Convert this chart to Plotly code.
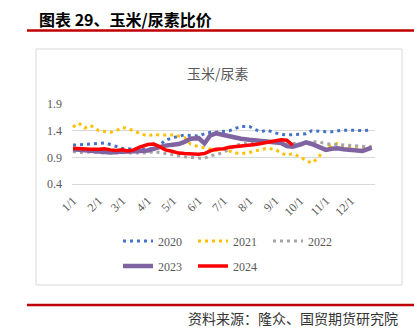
import plotly.graph_objects as go

W, H = 414, 329
PL, PR, PT, PB = 72, 375, 104, 184  # plot-area box in page pixels

DATES = ["2001-01-01", "2001-01-08", "2001-01-15", "2001-01-22",
         "2001-02-01", "2001-02-08", "2001-02-15", "2001-02-22",
         "2001-03-01", "2001-03-08", "2001-03-15", "2001-03-22",
         "2001-04-01", "2001-04-08", "2001-04-15", "2001-04-22",
         "2001-05-01", "2001-05-08", "2001-05-15", "2001-05-22",
         "2001-06-01", "2001-06-08", "2001-06-15", "2001-06-22",
         "2001-07-01", "2001-07-08", "2001-07-15", "2001-07-22",
         "2001-08-01", "2001-08-08", "2001-08-15", "2001-08-22",
         "2001-09-01", "2001-09-08", "2001-09-15", "2001-09-22",
         "2001-10-01", "2001-10-08", "2001-10-15", "2001-10-22",
         "2001-11-01", "2001-11-08", "2001-11-15", "2001-11-22",
         "2001-12-01", "2001-12-08", "2001-12-15", "2001-12-22",
         "2001-12-26"]

Y2020 = [1.13, 1.14, 1.14, 1.15, 1.16, 1.17, 1.14, 1.10, 1.07, 1.06, 1.05, 1.05,
         1.05, 1.07, 1.13, 1.22, 1.27, 1.30, 1.32, 1.31, 1.30, 1.34, 1.37, 1.37,
         1.38, 1.40, 1.44, 1.48, 1.48, 1.42, 1.38, 1.41, 1.36, 1.33, 1.32, 1.33,
         1.33, 1.34, 1.40, 1.39, 1.38, 1.38, 1.40, 1.41, 1.41, 1.40, 1.40, 1.41,
         1.41]
Y2021 = [1.47, 1.54, 1.45, 1.50, 1.40, 1.39, 1.37, 1.40, 1.46, 1.44, 1.39, 1.35,
         1.30, 1.33, 1.32, 1.32, 1.32, 1.30, 1.27, 1.15, 1.10, 1.08, 1.06, 1.03,
         1.06, 1.02, 0.98, 0.97, 0.99, 1.02, 1.05, 1.07, 1.05, 0.98, 0.94, 0.97,
         0.91, 0.84, 0.79, 0.88, 1.08, 1.13, 1.16, 1.10, 1.10, 1.10, 1.09, 1.09,
         1.09]
Y2022 = [1.01, 0.99, 1.00, 1.00, 0.99, 0.98, 0.99, 0.98, 0.99, 0.98, 0.98, 0.98,
         0.98, 1.01, 0.99, 0.97, 0.95, 0.93, 0.91, 0.90, 0.89, 0.88, 0.93, 0.95,
         0.99, 1.05, 1.12, 1.15, 1.17, 1.18, 1.19, 1.20, 1.20, 1.19, 1.17, 1.16,
         1.15, 1.17, 1.19, 1.19, 1.16, 1.14, 1.14, 1.13, 1.12, 1.11, 1.11, 1.10,
         1.10]
Y2023 = [1.05, 1.04, 1.03, 1.02, 1.01, 1.00, 0.99, 1.00, 1.01, 1.02, 1.02, 1.02,
         1.03, 1.05, 1.09, 1.12, 1.14, 1.15, 1.19, 1.25, 1.26, 1.16, 1.31, 1.35,
         1.32, 1.29, 1.28, 1.25, 1.23, 1.22, 1.20, 1.19, 1.18, 1.17, 1.11, 1.10,
         1.14, 1.18, 1.15, 1.10, 1.04, 1.06, 1.07, 1.05, 1.04, 1.02, 1.02, 1.06,
         1.08]
Y2024 = [1.07, 1.06, 1.06, 1.05, 1.05, 1.06, 1.04, 1.03, 1.04, 1.02, 1.04, 1.09,
         1.14, 1.15, 1.10, 1.04, 1.01, 0.98, 0.97, 0.96, 0.96, 0.97, 1.02, 1.05,
         1.06, 1.09, 1.10, 1.12, 1.12, 1.14, 1.16, 1.18, 1.21, 1.23, 1.22, 1.13,
         None, None, None, None, None, None, None, None, None, None, None, None,
         None]

TICK_VALS = ["2001-01-01", "2001-02-01", "2001-03-01", "2001-04-01",
             "2001-05-01", "2001-06-01", "2001-07-01", "2001-08-01",
             "2001-09-01", "2001-10-01", "2001-11-01", "2001-12-01"]
TICK_TEXT = ["1/1", "2/1", "3/1", "4/1", "5/1", "6/1",
             "7/1", "8/1", "9/1", "10/1", "11/1", "12/1"]
Y_TICKS = [0.4, 0.9, 1.4, 1.9]

HEADER = "图表 29、玉米/尿素比价"
TITLE = "玉米/尿素"
SOURCE = "资料来源：隆众、国贸期货研究院"

SERIES = [
    ("2020", Y2020, "#4472C4", 3, "3px,4px", "legend"),
    ("2021", Y2021, "#FFC000", 3, "3px,4px", "legend"),
    ("2022", Y2022, "#A5A5A5", 3, "3px,4px", "legend"),
    ("2023", Y2023, "#8064A2", 4.5, "solid", "legend2"),
    ("2024", Y2024, "#FF0000", 3.5, "solid", "legend2"),
]


def fx(px):
    return (px - PL) / (PR - PL)


def fy(py):
    return (PB - py) / (PB - PT)


SERIF = "Liberation Serif, Times New Roman, serif"
CJK = "Noto Sans CJK SC"
GREY_TXT = "#595959"

fig = go.Figure()
for name, vals, color, width, dash, leg in SERIES:
    fig.add_trace(go.Scatter(
        x=DATES, y=vals, name=name, mode="lines",
        line=dict(color=color, width=width, dash=dash),
        connectgaps=False, legend=leg,
    ))

legend_common = dict(
    orientation="h", xanchor="left", yanchor="middle",
    font=dict(family=SERIF, size=12, color=GREY_TXT),
    bgcolor="rgba(0,0,0,0)", entrywidth=30, entrywidthmode="pixels",
    tracegroupgap=0, itemwidth=30,
)

fig.update_layout(
    width=W, height=H,
    margin=dict(l=PL, r=W - PR, t=PT, b=H - PB),
    paper_bgcolor="white", plot_bgcolor="white",
    showlegend=True,
    legend=dict(x=fx(118), y=fy(241), **legend_common),
    legend2=dict(x=fx(118), y=fy(266), **legend_common),
    xaxis=dict(
        type="date",
        range=["2000-12-30 19:00", "2001-12-30"],
        tickmode="array", tickvals=TICK_VALS, ticktext=TICK_TEXT,
        tickangle=-45, showgrid=False, zeroline=False,
        showline=True, linecolor="#D9D9D9", linewidth=1,
        ticks="", ticklabelstandoff=4,
        tickfont=dict(family=SERIF, size=12, color=GREY_TXT),
    ),
    yaxis=dict(
        range=[0.4, 1.9], tickmode="array", tickvals=Y_TICKS,
        ticktext=[f"{v:.1f}" for v in Y_TICKS],
        showgrid=True, gridcolor="#D9D9D9", gridwidth=1,
        zeroline=False, showline=False, ticks="", ticklabelstandoff=9,
        tickfont=dict(family=SERIF, size=12, color=GREY_TXT),
    ),
    shapes=[
        dict(type="rect", xref="paper", yref="paper",
             x0=fx(36), x1=fx(402), y0=fy(49), y1=fy(285),
             line=dict(color="#D9D9D9", width=1), layer="below"),
        dict(type="line", xref="paper", yref="paper",
             x0=fx(27), x1=fx(414), y0=fy(30.5), y1=fy(30.5),
             line=dict(color="#C00000", width=2.5)),
        dict(type="line", xref="paper", yref="paper",
             x0=fx(27), x1=fx(414), y0=fy(305), y1=fy(305),
             line=dict(color="#C00000", width=2.5)),
    ],
    annotations=[
        dict(text="<b>" + HEADER + "</b>", xref="paper", yref="paper",
             x=fx(37), y=fy(18.5), xanchor="left", yanchor="middle",
             showarrow=False, font=dict(family=CJK, size=16, color="#000000")),
        dict(text=TITLE, xref="paper", yref="paper",
             x=fx(218), y=fy(72.5), xanchor="center", yanchor="middle",
             showarrow=False, font=dict(family=CJK, size=14, color=GREY_TXT)),
        dict(text=SOURCE, xref="paper", yref="paper",
             x=fx(400), y=fy(317.5), xanchor="right", yanchor="middle",
             showarrow=False, font=dict(family=CJK, size=14, color="#333333")),
    ],
)

fig.write_html("out.html")
